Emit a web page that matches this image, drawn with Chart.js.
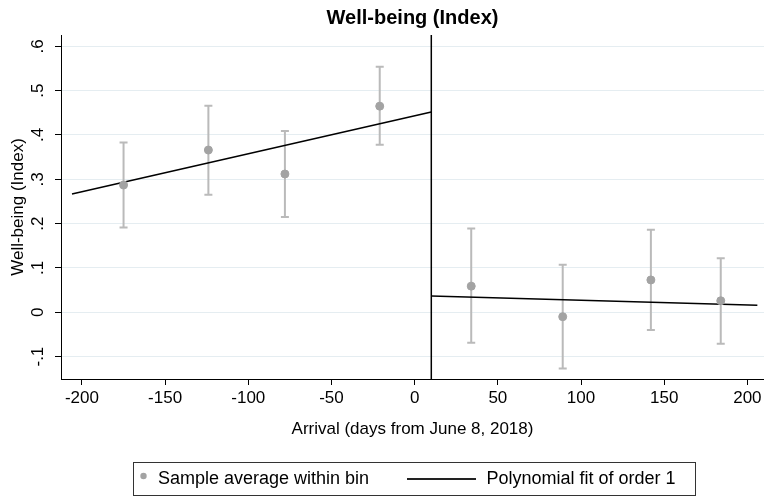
<!DOCTYPE html>
<html>
<head>
<meta charset="utf-8">
<script src="https://cdn.jsdelivr.net/npm/chart.js@4.4.1/dist/chart.umd.min.js"></script>
<style>
  html, body { margin: 0; padding: 0; background: #fff; }
  canvas { display: block; }
</style>
</head>
<body>
<canvas id="rdChart" width="764" height="498"></canvas>
<script>
// bin averages with confidence intervals
const binX = [-175, -124, -78, -21, 34, 89, 142, 184];
const binMean = [0.287, 0.366, 0.312, 0.465, 0.059, -0.010, 0.073, 0.026];
const ciLow = [0.191, 0.265, 0.215, 0.378, -0.069, -0.127, -0.040, -0.071];
const ciHigh = [0.383, 0.466, 0.409, 0.554, 0.189, 0.107, 0.186, 0.122];

// linear fits on each side of the cutoff
const cutoff = 10;
const fitLeftX = [-206, 10];
const fitLeftY = [0.267, 0.452];
const fitRightX = [10, 206];
const fitRightY = [0.037, 0.016];

const xTickVals = [-200, -150, -100, -50, 0, 50, 100, 150, 200];
const xTickLabels = ['-200', '-150', '-100', '-50', '0', '50', '100', '150', '200'];
const yTickVals = [-0.1, 0, 0.1, 0.2, 0.3, 0.4, 0.5, 0.6];
const yTickLabels = ['-.1', '0', '.1', '.2', '.3', '.4', '.5', '.6'];

const titleText = 'Well-being (Index)';
const FONT = '"Liberation Sans", Arial, sans-serif';

const pointColor = '#a3a3a3';
const barColor = '#bababa';

const toXY = (xs, ys) => xs.map((x, i) => ({ x: x, y: ys[i] }));

const extras = {
  id: 'extras',
  beforeDatasetsDraw(chart) {
    const ctx = chart.ctx;
    const x = chart.scales.x, y = chart.scales.y;
    ctx.save();
    ctx.strokeStyle = barColor;
    ctx.lineWidth = 2;
    binX.forEach((bx, i) => {
      const px = x.getPixelForValue(bx);
      const lo = y.getPixelForValue(ciLow[i]);
      const hi = y.getPixelForValue(ciHigh[i]);
      ctx.beginPath();
      ctx.moveTo(px, lo); ctx.lineTo(px, hi);
      ctx.moveTo(px - 4, lo); ctx.lineTo(px + 4, lo);
      ctx.moveTo(px - 4, hi); ctx.lineTo(px + 4, hi);
      ctx.stroke();
    });
    ctx.restore();
  },
  afterDraw(chart) {
    const ctx = chart.ctx;
    const area = chart.chartArea;
    const x = chart.scales.x, y = chart.scales.y;
    ctx.save();

    // cutoff line
    const cx = x.getPixelForValue(cutoff);
    ctx.strokeStyle = '#000';
    ctx.lineWidth = 1.5;
    ctx.beginPath();
    ctx.moveTo(cx, area.top);
    ctx.lineTo(cx, area.bottom);
    ctx.stroke();

    // rotated y tick labels (stata style)
    ctx.fillStyle = '#000';
    ctx.font = '17px ' + FONT;
    ctx.textAlign = 'center';
    ctx.textBaseline = 'middle';
    yTickVals.forEach((v, i) => {
      ctx.save();
      ctx.translate(38.5, y.getPixelForValue(v));
      ctx.rotate(-Math.PI / 2);
      ctx.fillText(yTickLabels[i], 0, 0);
      ctx.restore();
    });

    // title centred on plot region
    ctx.font = 'bold 20px ' + FONT;
    ctx.fillText(titleText, (area.left + area.right) / 2, 18);

    // legend box
    const ds = chart.data.datasets;
    ctx.strokeStyle = '#333';
    ctx.lineWidth = 1;
    ctx.strokeRect(133.5, 462.5, 562, 33);
    ctx.fillStyle = pointColor;
    ctx.beginPath();
    ctx.arc(143.5, 476, 3.2, 0, Math.PI * 2);
    ctx.fill();
    ctx.strokeStyle = '#222';
    ctx.lineWidth = 2;
    ctx.beginPath();
    ctx.moveTo(407, 479);
    ctx.lineTo(476, 479);
    ctx.stroke();
    ctx.fillStyle = '#000';
    ctx.font = '18px ' + FONT;
    ctx.textAlign = 'left';
    ctx.fillText(ds[0].label, 158, 479);
    ctx.fillText(ds[1].label, 486.5, 479);
    ctx.restore();
  }
};

new Chart('rdChart', {
  type: 'scatter',
  data: {
    datasets: [{
      label: 'Sample average within bin',
      data: toXY(binX, binMean),
      backgroundColor: pointColor,
      borderColor: pointColor,
      pointRadius: 4,
      order: 0
    }, {
      label: 'Polynomial fit of order 1',
      data: toXY(fitLeftX, fitLeftY),
      showLine: true,
      borderColor: '#000',
      borderWidth: 1.5,
      pointRadius: 0,
      order: 1
    }, {
      label: 'fit right',
      data: toXY(fitRightX, fitRightY),
      showLine: true,
      borderColor: '#000',
      borderWidth: 1.5,
      pointRadius: 0,
      order: 1
    }]
  },
  options: {
    responsive: false,
    animation: false,
    devicePixelRatio: 1,
    layout: { autoPadding: false, padding: { top: 35, left: 0, right: 0, bottom: 57 } },
    plugins: {
      legend: { display: false },
      title: { display: false },
      tooltip: { enabled: false }
    },
    scales: {
      x: {
        type: 'linear',
        min: -212.6,
        max: 210,
        afterBuildTicks: s => { s.ticks = xTickVals.map(v => ({ value: v })); },
        afterFit: s => { s.height = 62; s.paddingLeft = 0; s.paddingRight = 0; },
        ticks: {
          color: '#000',
          font: { family: FONT, size: 17 },
          padding: 3,
          maxRotation: 0,
          callback: (v) => xTickLabels[xTickVals.indexOf(v)]
        },
        grid: { drawOnChartArea: false, tickLength: 6, tickColor: '#000' },
        border: { color: '#000', width: 1 },
        title: {
          display: true,
          text: 'Arrival (days from June 8, 2018)',
          color: '#000',
          font: { family: FONT, size: 17 },
          padding: { top: 4, bottom: 1 }
        }
      },
      y: {
        type: 'linear',
        min: -0.1505,
        max: 0.6255,
        afterBuildTicks: s => { s.ticks = yTickVals.map(v => ({ value: v })); },
        afterFit: s => { s.width = 61; s.paddingTop = 0; s.paddingBottom = 0; },
        ticks: { display: false },
        grid: {
          color: '#e5edf1',
          lineWidth: 1,
          tickLength: 6,
          tickColor: '#000'
        },
        border: { color: '#000', width: 1 },
        title: {
          display: true,
          text: 'Well-being (Index)',
          color: '#000',
          font: { family: FONT, size: 17 },
          padding: { top: 8, bottom: 0 }
        }
      }
    }
  },
  plugins: [extras]
});
</script>
</body>
</html>
